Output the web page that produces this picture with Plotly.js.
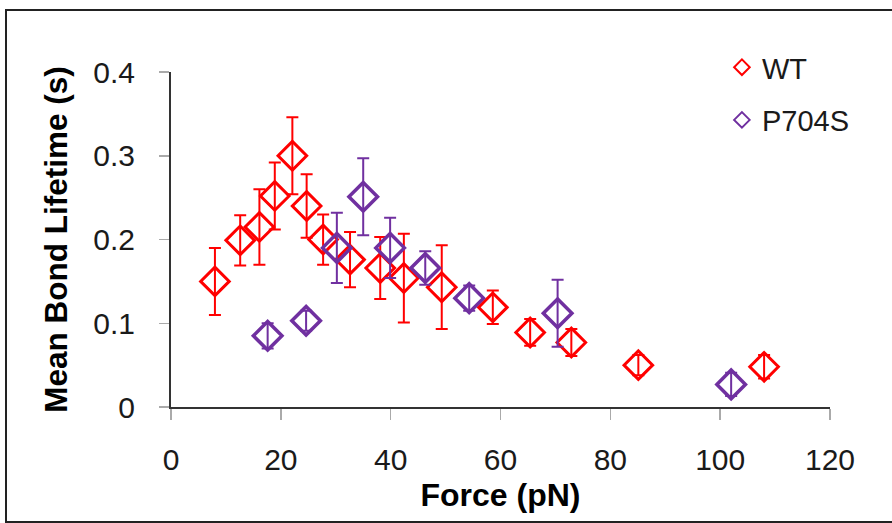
<!DOCTYPE html>
<html>
<head>
<meta charset="utf-8">
<script src="https://cdn.plot.ly/plotly-3.0.1.min.js"></script>
<style>
  html, body { margin: 0; padding: 0; background: #fff; }
  #chart { width: 892px; height: 523px; position: absolute; left: 0; top: 0; }
  #frame { position: absolute; left: 5px; top: 9px; width: 900px; height: 510px;
           border: 2px solid #222; pointer-events: none; }
</style>
</head>
<body>
<div id="chart"></div>
<div id="frame"></div>
<script>
// WT data
const wtForce    = [8.0, 12.6, 16.1, 18.9, 22.1, 24.7, 27.7, 32.6, 38.1, 42.4, 49.3, 58.6, 65.4, 72.9, 85.1, 108.0];
const wtLifetime = [0.150, 0.199, 0.215, 0.252, 0.300, 0.240, 0.200, 0.176, 0.166, 0.154, 0.143, 0.119, 0.089, 0.077, 0.050, 0.048];
const wtError    = [0.040, 0.030, 0.045, 0.040, 0.046, 0.038, 0.030, 0.033, 0.037, 0.053, 0.050, 0.020, 0.016, 0.016, 0.012, 0.014];

// P704S data
const mutForce    = [17.6, 24.6, 30.2, 35.0, 39.9, 46.3, 54.3, 70.4, 102.0];
const mutLifetime = [0.085, 0.103, 0.190, 0.251, 0.190, 0.166, 0.130, 0.112, 0.027];
const mutError    = [0.015, 0.012, 0.042, 0.046, 0.036, 0.020, 0.015, 0.040, 0.014];

const xTicks = [0, 20, 40, 60, 80, 100, 120];
const yTicks = [0, 0.1, 0.2, 0.3, 0.4];
const yTickText = ['0', '0.1', '0.2', '0.3', '0.4'];

const FONT = '"Liberation Sans", Arial, sans-serif';
const RED = '#ff0000';
const PURPLE = '#7030a0';

const traces = [
  {
    x: wtForce, y: wtLifetime, name: 'WT', type: 'scatter', mode: 'markers', legendgroup: 'wt',
    marker: { symbol: 'diamond-open', size: 22, color: RED, line: { width: 3, color: RED } },
    error_y: { type: 'data', array: wtError, visible: true, color: RED, thickness: 2, width: 6 }
  },
  {
    x: mutForce, y: mutLifetime, name: 'P704S', type: 'scatter', mode: 'markers', legendgroup: 'mut',
    marker: { symbol: 'diamond-open', size: 22, color: PURPLE, line: { width: 3.5, color: PURPLE } },
    error_y: { type: 'data', array: mutError, visible: true, color: PURPLE, thickness: 2, width: 6 }
  }
];

const layout = {
  width: 892, height: 523,
  margin: { l: 171, r: 62, t: 72, b: 116 },
  paper_bgcolor: '#ffffff', plot_bgcolor: '#ffffff',
  showlegend: true,
  legend: {
    x: 0.836, y: 1.09, xanchor: 'left', yanchor: 'top',
    font: { family: FONT, size: 29, color: '#1a1a1a' },
    bgcolor: 'rgba(0,0,0,0)', itemsizing: 'constant', tracegroupgap: 12
  },
  xaxis: {
    range: [0, 120], tickvals: xTicks, ticktext: xTicks.map(String),
    showgrid: false, zeroline: false,
    showline: true, linecolor: '#333', linewidth: 2,
    ticks: 'outside', ticklen: 11, tickwidth: 1.5, tickcolor: '#aaa',
    ticklabelstandoff: 14,
    tickfont: { family: FONT, size: 30, color: '#1a1a1a' },
    title: { text: '<b>Force (pN)</b>', font: { family: FONT, size: 32, color: '#000' }, standoff: 9 }
  },
  yaxis: {
    range: [0, 0.4], tickvals: yTicks, ticktext: yTickText,
    showgrid: false, zeroline: false,
    showline: true, linecolor: '#333', linewidth: 2,
    ticks: 'outside', ticklen: 10, tickwidth: 1.5, tickcolor: '#aaa',
    ticklabelstandoff: 18,
    tickfont: { family: FONT, size: 30, color: '#1a1a1a' },
    title: { text: '<b>Mean Bond Lifetime (s)</b>', font: { family: FONT, size: 31.5, color: '#000' }, standoff: 16 }
  }
};

Plotly.newPlot('chart', traces, layout, { staticPlot: true, displayModeBar: false });
</script>
</body>
</html>
